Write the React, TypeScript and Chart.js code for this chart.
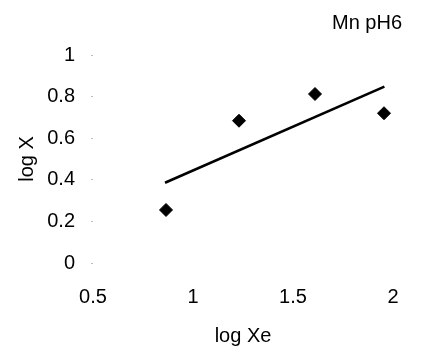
import React, { useEffect, useRef } from "react";
import { Chart, registerables } from "chart.js";

Chart.register(...registerables);

const chartTitle = "Mn pH6";
const xTitle = "log Xe";
const yTitle = "log X";

const pointX = [0.865, 1.23, 1.61, 1.955];
const pointY = [0.255, 0.684, 0.8125, 0.72];

const trendX = [0.86, 1.957];
const trendY = [0.386, 0.848];

const xMin = 0.5;
const xMax = 2;
const xStep = 0.5;
const yMin = 0;
const yMax = 1;
const yStep = 0.2;

const FONT = "'Liberation Sans', Arial, sans-serif";

export default function App() {
  const ref = useRef<HTMLCanvasElement | null>(null);

  useEffect(() => {
    if (!ref.current) return;
    const titlePlugin = {
      id: "cornerTitle",
      afterDraw(chart: any) {
        const { ctx, chartArea } = chart;
        ctx.save();
        ctx.font = `20px ${FONT}`;
        ctx.fillStyle = "#000";
        ctx.textAlign = "right";
        ctx.textBaseline = "middle";
        ctx.fillText(chartTitle, chartArea.right + 9, 23);
        ctx.restore();
      },
    };
    const chart = new Chart(ref.current, {
      type: "scatter",
      data: {
        datasets: [
          {
            type: "line",
            data: trendX.map((x, i) => ({ x, y: trendY[i] })),
            borderColor: "#000",
            borderWidth: 2.6,
            pointRadius: 0,
            fill: false,
          },
          {
            type: "scatter",
            data: pointX.map((x, i) => ({ x, y: pointY[i] })),
            pointStyle: "rectRot",
            pointRadius: 6.5,
            backgroundColor: "#000",
            borderColor: "#000",
            borderWidth: 1,
          },
        ],
      },
      options: {
        responsive: false,
        animation: false,
        layout: { padding: { top: 55, right: 30, left: 0, bottom: 0 } },
        plugins: {
          legend: { display: false },
          tooltip: { enabled: false },
          title: { display: false },
        },
        scales: {
          x: {
            type: "linear",
            min: xMin,
            max: xMax,
            border: { display: false },
            grid: { display: false },
            ticks: {
              stepSize: xStep,
              color: "#000",
              padding: 14,
              font: { family: FONT, size: 20 },
              callback: (v: any) => String(Math.round(Number(v) * 10) / 10),
            },
            title: {
              display: true,
              text: xTitle,
              color: "#000",
              font: { family: FONT, size: 20 },
              padding: { top: 0, bottom: 12 },
            },
            afterFit: (s: any) => {
              s.height = 97;
            },
          },
          y: {
            type: "linear",
            min: yMin,
            max: yMax,
            border: { display: false },
            grid: {
              drawOnChartArea: false,
              drawTicks: true,
              tickLength: 2,
              color: "#bbbbbb",
            },
            ticks: {
              stepSize: yStep,
              color: "#000",
              padding: 16,
              font: { family: FONT, size: 20 },
              callback: (v: any) => String(Math.round(Number(v) * 10) / 10),
            },
            title: {
              display: true,
              text: yTitle,
              color: "#000",
              font: { family: FONT, size: 20 },
              padding: { top: 15, bottom: 0 },
            },
            afterFit: (s: any) => {
              s.width = 93;
            },
          },
        },
      },
      plugins: [titlePlugin],
    });
    return () => chart.destroy();
  }, []);

  return (
    <div style={{ position: "absolute", left: 0, top: 0, width: 423, height: 360, background: "#fff" }}>
      <canvas ref={ref} width={423} height={360} style={{ display: "block" }} />
    </div>
  );
}
